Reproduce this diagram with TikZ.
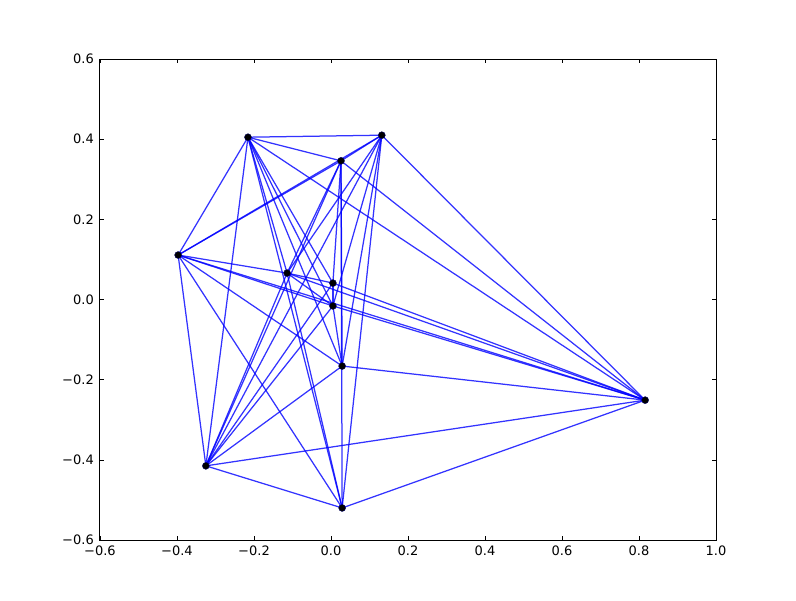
\documentclass[tikz,border=0pt]{standalone}
\usepackage{fontspec}
\newfontfamily\plotfont{DejaVu Sans}
\usetikzlibrary{backgrounds}

\begin{document}
\begin{tikzpicture}[
    x=385pt, y=400.8pt,
    font=\plotfont\fontsize{13}{15}\selectfont,
    vertex/.style={circle, fill=black, draw=black!60!blue, inner sep=0pt,
      minimum size=7pt},
    edge/.style={draw=blue, opacity=0.8, line width=1.25pt},
    frame/.style={draw=black, line width=1pt},
    tickmark/.style={draw=black, line width=0.6pt},
    ticklabel/.style={inner sep=0pt}
  ]
    \useasboundingbox (-0.8597,-0.7498) rectangle (1.2078,0.7473);

    % axes box, ticks and labels
    \draw[frame] (-0.6,-0.6) rectangle (1.0,0.6);
    \foreach \x/\lab in {-0.6/−0.6, -0.4/−0.4, -0.2/−0.2, 0/0.0, 0.2/0.2,
                         0.4/0.4, 0.6/0.6, 0.8/0.8, 1.0/1.0} {
      \draw[tickmark] (\x,-0.6) -- ++(0,4pt);
      \draw[tickmark] (\x,0.6) -- ++(0,-4pt);
      \node[ticklabel, anchor=north, yshift=-6pt] at (\x,-0.6) {\lab};
    }
    \foreach \y/\lab in {-0.6/−0.6, -0.4/−0.4, -0.2/−0.2, 0/0.0, 0.2/0.2,
                         0.4/0.4, 0.6/0.6} {
      \draw[tickmark] (-0.6,\y) -- ++(4pt,0);
      \draw[tickmark] (1.0,\y) -- ++(-4pt,0);
      \node[ticklabel, anchor=east, xshift=-6pt] at (-0.6,\y) {\lab};
    }

    % vertices
    \node[vertex] (v1) at (-0.2156,0.405) {};
    \node[vertex] (v2) at (0.132,0.410) {};
    \node[vertex] (v3) at (0.026,0.346) {};
    \node[vertex] (v4) at (-0.397,0.111) {};
    \node[vertex] (v5) at (-0.114,0.066) {};
    \node[vertex] (v6) at (0.005,0.041) {};
    \node[vertex] (v7) at (0.005,-0.016) {};
    \node[vertex] (v8) at (0.029,-0.166) {};
    \node[vertex] (v9) at (-0.325,-0.415) {};
    \node[vertex] (v10) at (0.029,-0.520) {};
    \node[vertex] (v11) at (0.816,-0.251) {};

    % edges
    \begin{scope}[on background layer]
      \foreach \a/\b in {v1/v2, v1/v3, v1/v4, v1/v5, v1/v6, v1/v7, v1/v8,
                         v1/v9, v1/v10, v1/v11,
                         v2/v3, v2/v4, v2/v5, v2/v7, v2/v8, v2/v9, v2/v10,
                         v2/v11,
                         v3/v4, v3/v5, v3/v6, v3/v8, v3/v9, v3/v10, v3/v11,
                         v4/v5, v4/v7, v4/v8, v4/v9, v4/v10, v4/v11,
                         v5/v6, v5/v7, v5/v9, v5/v10, v5/v11,
                         v6/v7, v6/v9, v6/v11,
                         v7/v8, v7/v9, v7/v11,
                         v8/v9, v8/v11,
                         v9/v10, v9/v11,
                         v10/v11}
        \draw[edge] (\a.center) -- (\b.center);
    \end{scope}
\end{tikzpicture}
\end{document}
